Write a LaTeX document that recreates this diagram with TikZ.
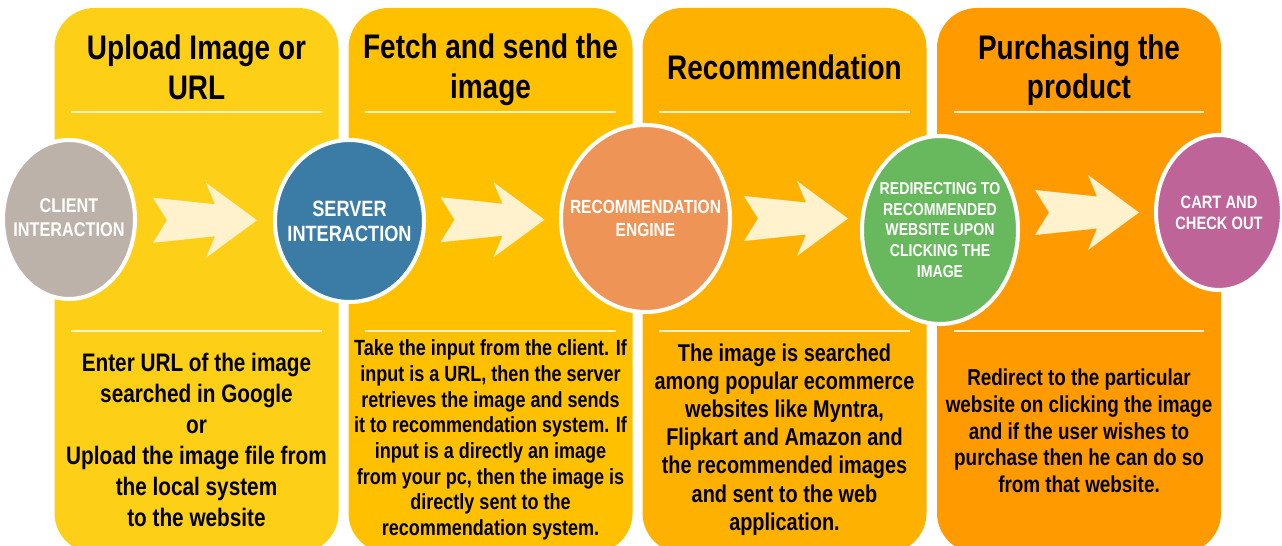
\documentclass[tikz,border=0pt]{standalone}
\usepackage{fontspec}
\newfontfamily\narrowsf[FakeStretch=0.82]{Liberation Sans}
\usetikzlibrary{shapes.geometric,calc}
\definecolor{upcol}{RGB}{253,208,23}
\definecolor{fecol}{RGB}{255,192,0}
\definecolor{rccol}{RGB}{255,177,0}
\definecolor{pucol}{RGB}{255,154,0}
\definecolor{clcol}{RGB}{188,178,169}
\definecolor{svcol}{RGB}{59,124,167}
\definecolor{encol}{RGB}{238,148,86}
\definecolor{rdcol}{RGB}{104,185,94}
\definecolor{cacol}{RGB}{191,100,153}
\definecolor{cream}{RGB}{255,242,204}
\tikzset{panel/.style = {fill = #1,rounded corners = .8cm,minimum width = 5.68cm,minimum height = 10.9cm,inner sep = 0pt},
disc/.style = {ellipse,fill = #1,draw = white,line width = 2.3pt,inner sep = 0pt},
ctext/.style = {text = white,align = center,inner sep = 0pt},
head/.style = {align = center,inner sep = 0pt,font = \narrowsf\bfseries\fontsize{19.4}{22.7}\selectfont},
body/.style = {align = center,inner sep = 0pt},
rule/.style = {draw = cream,line width = 1.2pt},
chev/.style = {fill = cream,to path = {let \p1 = ($(\tikztostart)!.5!(\tikztotarget)$) in
  (\x1-1.04cm,\y1+.45cm) -- (\x1+.2cm,\y1+.32cm) -- (\x1+.02cm,\y1+.75cm) -- (\x1+1.04cm,\y1)
  -- (\x1+.02cm,\y1-.75cm) -- (\x1+.2cm,\y1-.32cm) -- (\x1-1.04cm,\y1-.45cm) -- (\x1-.76cm,\y1) -- cycle}}}

\begin{document}
\begin{tikzpicture}
\clip (0,0) rectangle (25.64,-10.92);
\node[panel = upcol] (up) at (3.93,-5.61) {};
\node[panel = fecol] (fe) at (9.81,-5.61) {};
\node[panel = rccol] (rc) at (15.69,-5.61) {};
\node[panel = pucol] (pu) at (21.58,-5.61) {};

\node[head] (t1) at ([yshift = -1.2cm]up.north) {Upload Image or\\URL};
\node[head] (t2) at ([yshift = -1.25cm]fe.north) {Fetch and send the\\image};
\node[head] (t3) at ([yshift = -1.2cm]rc.north) {Recommendation};
\node[head] (t4) at ([yshift = -1.25cm]pu.north) {Purchasing the\\product};

\draw[rule] ([xshift = .34cm,yshift = -2.09cm]up.north west) -- ([xshift = -.34cm,yshift = -2.09cm]up.north east);
\draw[rule] ([xshift = .34cm,yshift = -2.09cm]fe.north west) -- ([xshift = -.34cm,yshift = -2.09cm]fe.north east);
\draw[rule] ([xshift = .34cm,yshift = -2.09cm]rc.north west) -- ([xshift = -.34cm,yshift = -2.09cm]rc.north east);
\draw[rule] ([xshift = .34cm,yshift = -2.09cm]pu.north west) -- ([xshift = -.34cm,yshift = -2.09cm]pu.north east);
\draw[rule] ([xshift = .34cm,yshift = -6.46cm]up.north west) -- ([xshift = -.34cm,yshift = -6.46cm]up.north east);
\draw[rule] ([xshift = .34cm,yshift = -6.46cm]fe.north west) -- ([xshift = -.34cm,yshift = -6.46cm]fe.north east);
\draw[rule] ([xshift = .34cm,yshift = -6.46cm]rc.north west) -- ([xshift = -.34cm,yshift = -6.46cm]rc.north east);
\draw[rule] ([xshift = .34cm,yshift = -6.46cm]pu.north west) -- ([xshift = -.34cm,yshift = -6.46cm]pu.north east);

\node[disc = clcol,minimum width = 2.64cm,minimum height = 3.18cm] (cl) at (1.38,-4.39) {};
\node[disc = svcol,minimum width = 2.98cm,minimum height = 3.24cm] (sv) at (6.99,-4.42) {};
\node[disc = encol,minimum width = 3.38cm,minimum height = 3.74cm] (en) at (12.91,-4.37) {};
\node[disc = rdcol,minimum width = 3.12cm,minimum height = 3.76cm] (rd) at (18.8,-4.6) {};
\node[disc = cacol,minimum width = 2.52cm,minimum height = 3.1cm] (ca) at (24.38,-4.25) {};

\node[ctext,font = \narrowsf\bfseries\fontsize{11.3}{13.6}\selectfont] (clt) at ([yshift = .04cm]cl) {CLIENT\\INTERACTION};
\node[ctext,font = \narrowsf\bfseries\fontsize{12.6}{14.2}\selectfont] (svt) at (sv) {SERVER\\INTERACTION};
\node[ctext,font = \narrowsf\bfseries\fontsize{10.8}{13}\selectfont] (ent) at (en) {RECOMMENDATION\\ENGINE};
\node[ctext,font = \narrowsf\bfseries\fontsize{9.8}{11.7}\selectfont] (rdt) at (rd) {REDIRECTING TO\\RECOMMENDED\\WEBSITE UPON\\CLICKING THE\\IMAGE};
\node[ctext,font = \narrowsf\bfseries\fontsize{10.2}{11.9}\selectfont] (cat) at (ca) {CART AND\\CHECK OUT};

\fill[chev] (cl.east) to (sv.west);
\fill[chev] (sv.east) to (en.west);
\fill[chev] (en.east) to (en.east -| rd.west);
\fill[chev] (rd.east |- ca) to (ca.west);

\node[body,font = \narrowsf\bfseries\fontsize{14.4}{17.6}\selectfont] (b1) at (3.93,-8.8) {Enter URL of the image\\searched in Google\\or\\Upload the image file from\\the local system\\to the website};
\node[body,font = \narrowsf\bfseries\fontsize{12.5}{14.6}\selectfont] (b2) at (9.81,-8.8) {Take the input from the client. If\\input is a URL, then the server\\retrieves the image and sends\\it to recommendation system. If\\input is a directly an image\\from your pc, then the image is\\directly sent to the\\recommendation system.};
\node[body,font = \narrowsf\bfseries\fontsize{13.8}{16}\selectfont] (b3) at (15.69,-8.79) {The image is searched\\among popular ecommerce\\websites like Myntra,\\Flipkart and Amazon and\\the recommended images\\and sent to the web\\application.};
\node[body,font = \narrowsf\bfseries\fontsize{13.1}{15.2}\selectfont] (b4) at (21.58,-8.62) {Redirect to the particular\\website on clicking the image\\and if the user wishes to\\purchase then he can do so\\from that website.};
\end{tikzpicture}
\end{document}
